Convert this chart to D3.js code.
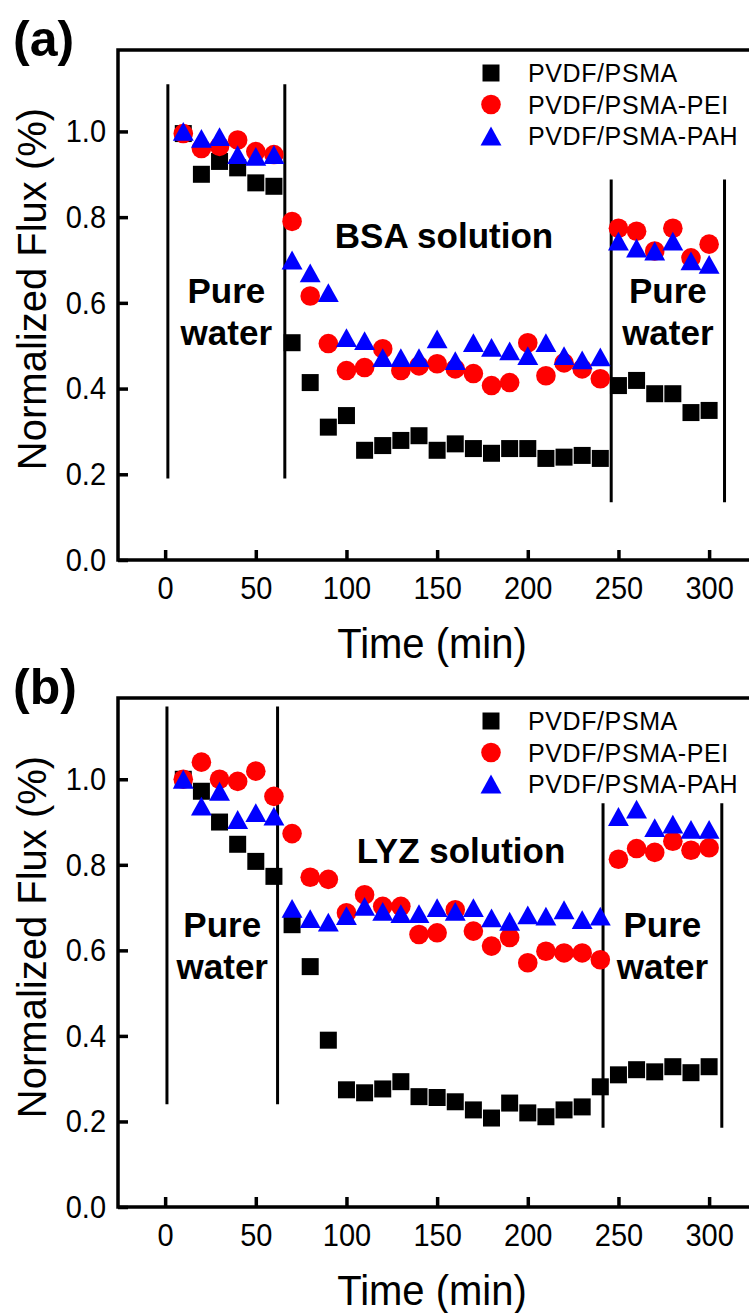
<!DOCTYPE html>
<html>
<head>
<meta charset="utf-8">
<script src="https://cdn.jsdelivr.net/npm/d3@7"></script>
<style>
  body { margin: 0; background: #fff; }
  svg { display: block; font-family: "Liberation Sans", Arial, sans-serif; }
</style>
</head>
<body>
<svg id="chart" width="749" height="1313"></svg>
<script>
// time points (min)
const time = [10, 20, 30, 40, 50, 60, 70, 80, 90, 100, 110, 120, 130, 140, 150,
              160, 170, 180, 190, 200, 210, 220, 230, 240, 250, 260, 270, 280, 290, 300];

const seriesNames = ["PVDF/PSMA", "PVDF/PSMA-PEI", "PVDF/PSMA-PAH"];

// (a) BSA
const bsaPSMA = [0.995, 0.90, 0.93, 0.915, 0.88, 0.872, 0.507, 0.414, 0.31, 0.337,
                 0.256, 0.267, 0.279, 0.29, 0.256, 0.271, 0.26, 0.249, 0.26, 0.26,
                 0.237, 0.24, 0.244, 0.237, 0.407, 0.419, 0.388, 0.388, 0.344, 0.349];
const bsaPEI  = [0.995, 0.96, 0.965, 0.98, 0.953, 0.946, 0.79, 0.616, 0.505, 0.442,
                 0.449, 0.493, 0.442, 0.453, 0.458, 0.446, 0.435, 0.407, 0.414, 0.507,
                 0.43, 0.46, 0.446, 0.423, 0.774, 0.767, 0.721, 0.774, 0.705, 0.737];
const bsaPAH  = [1.0, 0.984, 0.988, 0.946, 0.942, 0.946, 0.70, 0.67, 0.624, 0.519,
                 0.512, 0.472, 0.472, 0.472, 0.516, 0.465, 0.507, 0.496, 0.488, 0.477,
                 0.507, 0.477, 0.467, 0.474, 0.744, 0.728, 0.721, 0.744, 0.698, 0.69];

// (b) LYZ
const lyzPSMA = [1.0, 0.972, 0.9, 0.848, 0.808, 0.773, 0.66, 0.562, 0.39, 0.274,
                 0.267, 0.276, 0.293, 0.258, 0.256, 0.246, 0.227, 0.208, 0.243, 0.22,
                 0.211, 0.227, 0.234, 0.281, 0.309, 0.321, 0.316, 0.328, 0.314, 0.328];
const lyzPEI  = [1.0, 1.04, 1.0, 0.995, 1.019, 0.96, 0.873, 0.771, 0.766, 0.688,
                 0.73, 0.703, 0.703, 0.637, 0.641, 0.695, 0.645, 0.61, 0.63, 0.571,
                 0.598, 0.594, 0.594, 0.578, 0.813, 0.838, 0.829, 0.855, 0.834, 0.84];
const lyzPAH  = [1.0, 0.937, 0.972, 0.906, 0.922, 0.914, 0.698, 0.674, 0.666, 0.681,
                 0.703, 0.691, 0.686, 0.686, 0.70, 0.691, 0.70, 0.676, 0.668, 0.683,
                 0.68, 0.695, 0.672, 0.68, 0.913, 0.93, 0.887, 0.895, 0.883, 0.883];

// stage separators: time, flux from, flux to
const bsaLines = [[1.5, 0.19, 1.11], [66, 0.19, 1.11], [246, 0.135, 0.888], [308.5, 0.135, 0.888]];
const lyzLines = [[1, 0.24, 1.17], [62, 0.24, 1.17], [241.5, 0.185, 0.944], [307, 0.185, 0.944]];

const xTicks = [0, 50, 100, 150, 200, 250, 300];
const yTicks = [0.0, 0.2, 0.4, 0.6, 0.8, 1.0];

const svg = d3.select("#chart");

// triangle with its bounding box centred on the point
const triangle = {
  draw(ctx, size) {
    const w = Math.sqrt(size) * 1.1, h = w * 0.9;
    ctx.moveTo(0, -h / 2);
    ctx.lineTo(w / 2, h / 2);
    ctx.lineTo(-w / 2, h / 2);
    ctx.closePath();
  }
};
const markers = [
  { sym: d3.symbol(d3.symbolSquare, 17 * 17), color: "#000000" },
  { sym: d3.symbol(d3.symbolCircle, Math.PI * 9.8 * 9.8), color: "#ff0000" },
  { sym: d3.symbol(triangle, 19 * 19), color: "#0000ff" }
];

function drawPanel(p) {
  const x = d3.scaleLinear().domain([-26, 322]).range([118, 749]);
  const y = d3.scaleLinear().domain([0, 1.19]).range([p.bottom, p.top]);
  const g = svg.append("g");

  // frame (top, left, bottom)
  g.append("path")
    .attr("d", `M760,${p.top}H118V${p.bottom}H760`)
    .attr("fill", "none")
    .attr("stroke", "#000")
    .attr("stroke-width", 3.5);

  const yAxis = g.append("g")
    .attr("transform", `translate(118,0)`)
    .call(d3.axisLeft(y).tickValues(yTicks).tickSize(-10).tickPadding(12).tickFormat(d3.format(".1f")));
  const xAxis = g.append("g")
    .attr("transform", `translate(0,${p.bottom})`)
    .call(d3.axisBottom(x).tickValues(xTicks).tickSize(-10).tickPadding(15));
  [xAxis, yAxis].forEach(a => {
    a.select(".domain").remove();
    a.selectAll(".tick line").attr("stroke", "#000").attr("stroke-width", 3.5);
    a.selectAll(".tick text").attr("fill", "#000")
      .attr("transform", "scale(1,1.1)")
      .style("font-size", "29px").style("font-family", '"Liberation Sans", Arial, sans-serif');
  });

  // stage separator lines
  g.append("g").selectAll("line")
    .data(p.lines)
    .join("line")
    .attr("x1", d => x(d[0])).attr("x2", d => x(d[0]))
    .attr("y1", d => y(d[1])).attr("y2", d => y(d[2]))
    .attr("stroke", "#000")
    .attr("stroke-width", 3);

  // markers
  p.series.forEach((vals, i) => {
    g.append("g").selectAll("path")
      .data(time.map((t, j) => ({ t: t, v: vals[j] })))
      .join("path")
      .attr("transform", d => `translate(${x(d.t)},${y(d.v)})`)
      .attr("d", markers[i].sym)
      .attr("fill", markers[i].color);
  });

  // legend
  const lg = g.append("g").attr("transform", `translate(491,${p.top + 23})`);
  seriesNames.forEach((name, i) => {
    lg.append("path")
      .attr("transform", `translate(0,${i * 31.5})`)
      .attr("d", markers[i].sym)
      .attr("fill", markers[i].color);
    lg.append("text")
      .attr("x", 37).attr("y", i * 31.5 + 9)
      .style("font-size", "25px").style("letter-spacing", "0.6px")
      .text(name);
  });

  // annotations
  const bold = (tx, ty, s) => g.append("text")
    .attr("x", tx).attr("y", ty)
    .attr("text-anchor", "middle")
    .style("font-size", "35px").style("font-weight", "bold")
    .text(s);
  const lx = (x(p.lines[0][0]) + x(p.lines[1][0])) / 2;
  const rx = (x(p.lines[2][0]) + x(p.lines[3][0])) / 2;
  bold(lx, p.pureY, "Pure");
  bold(lx, p.pureY + 42, "water");
  bold(rx, p.pureY, "Pure");
  bold(rx, p.pureY + 42, "water");
  bold(p.solX, p.solY, p.solution);

  // axis titles
  g.append("text")
    .attr("transform", `translate(46,${p.top + 239}) rotate(-90)`)
    .attr("text-anchor", "middle")
    .style("font-size", "40px")
    .text("Normalized Flux (%)");
  g.append("text")
    .attr("transform", `translate(432,${p.bottom + 98}) scale(1,1.06)`)
    .attr("text-anchor", "middle")
    .style("font-size", "40px")
    .text("Time (min)");

  // panel label
  g.append("text")
    .attr("x", 13).attr("y", p.top + 6)
    .style("font-size", "50px").style("font-weight", "bold")
    .text(p.label);
}

drawPanel({
  top: 50, bottom: 560, label: "(a)",
  series: [bsaPSMA, bsaPEI, bsaPAH], lines: bsaLines,
  solution: "BSA solution", solX: 444, solY: 248, pureY: 303
});
drawPanel({
  top: 698, bottom: 1207, label: "(b)",
  series: [lyzPSMA, lyzPEI, lyzPAH], lines: lyzLines,
  solution: "LYZ solution", solX: 461, solY: 863, pureY: 937
});
</script>
</body>
</html>
